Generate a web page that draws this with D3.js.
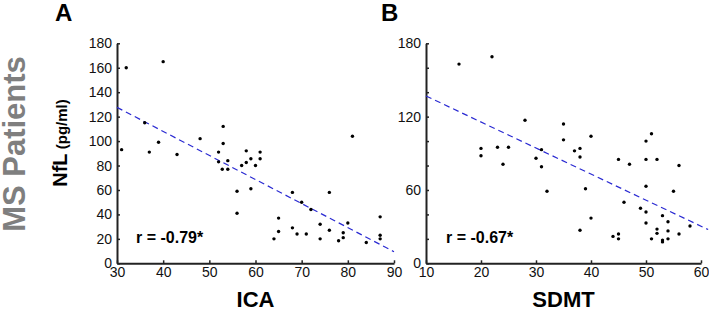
<!DOCTYPE html>
<html>
<head>
<meta charset="utf-8">
<script src="https://cdn.jsdelivr.net/npm/d3@7"></script>
<style>
  body { margin: 0; background: #fff; }
  text { font-family: "Liberation Sans", Arial, sans-serif; }
</style>
</head>
<body>
<div id="chart"></div>
<script>
// Panel A: ICA vs NfL
const icaValues = [32, 40, 31, 36, 37, 39, 43, 48, 53, 53, 52, 58, 61, 81,
    52, 52.8, 54, 54, 57, 58, 59, 60, 61,
    56, 56, 59, 65, 65, 64, 68, 68, 69, 70, 71, 72, 74, 74, 76, 76, 78, 79, 79, 80, 84, 87, 87, 87];
const icaNfl = [160, 165, 93, 115, 91, 99, 89, 102, 112, 98, 91, 92, 91, 104,
    83, 77, 84, 77, 80, 82.5, 85.5, 80, 85.5,
    59, 41, 61, 37, 26, 20, 58, 29, 24, 50, 24, 44, 32, 20, 58, 27, 18.5, 25, 21, 33, 17, 38, 23, 20];

// Panel B: SDMT vs NfL
const sdmtValues = [16, 22, 28, 35, 35, 40, 20, 20, 23, 25, 31, 30, 37, 38, 38, 45, 50, 51, 50, 52,
    24, 31, 32, 39, 40, 38, 44, 45, 45, 47, 46, 49, 50, 50, 50, 51, 52, 52, 53, 53, 53, 54, 54, 54, 55, 56, 56, 58];
const sdmtNfl = [163, 169, 117, 114, 101, 104, 94, 88, 95, 95, 93, 86, 92, 94, 87, 85, 100, 106, 85, 85,
    81, 79, 59, 61, 37, 27, 22, 24, 20, 81, 50, 45, 42, 33, 63, 20, 28, 24.5, 39, 19, 17.5, 34, 26.5, 20, 59, 80, 24, 30.5];

// Regression lines (end points)
const icaFitX = [30, 90];
const icaFitY = [127.6, 9.5];
const sdmtFitX = [10, 61.3];
const sdmtFitY = [136.9, 27.6];

// Tick values
const yTicks = [0, 20, 40, 60, 80, 100, 120, 140, 160, 180];
const icaTicks = [30, 40, 50, 60, 70, 80, 90];
const sdmtTicks = [10, 20, 30, 40, 50, 60];

const svg = d3.select("#chart")
    .append("svg")
    .attr("width", 709)
    .attr("height", 311);

const plotTop = 43.3, plotBottom = 263.3;

function drawPanel(cfg) {
    const xScale = d3.scaleLinear().domain(cfg.xDomain).range(cfg.xRange);
    const yScale = d3.scaleLinear().domain([0, 180]).range([plotBottom, plotTop]);

    const g = svg.append("g");

    // y axis (ticks pointing inward)
    const yAxis = g.append("g")
        .attr("transform", `translate(${cfg.xRange[0]},0)`)
        .call(d3.axisLeft(yScale)
            .tickValues(yTicks)
            .tickSizeInner(-3)
            .tickSizeOuter(0)
            .tickPadding(5)
            .tickFormat(cfg.yFormat));

    // x axis
    const xAxis = g.append("g")
        .attr("transform", `translate(0,${plotBottom})`)
        .call(d3.axisBottom(xScale)
            .tickValues(cfg.xTicks)
            .tickSizeInner(-3)
            .tickSizeOuter(0)
            .tickPadding(4));

    [yAxis, xAxis].forEach(ax => {
        ax.select(".domain").attr("stroke", "#222").attr("stroke-width", 2);
        ax.selectAll(".tick line").attr("stroke", "#222").attr("stroke-width", 1.5);
        ax.selectAll(".tick text")
            .attr("fill", "#111")
            .style("font-size", "14px")
            .style("font-family", "Liberation Sans, Arial, sans-serif");
    });

    // regression line
    g.append("line")
        .attr("x1", xScale(cfg.fitX[0]))
        .attr("y1", yScale(cfg.fitY[0]))
        .attr("x2", xScale(cfg.fitX[1]))
        .attr("y2", yScale(cfg.fitY[1]))
        .attr("stroke", "#2a2ad2")
        .attr("stroke-width", 1.2)
        .attr("stroke-dasharray", "6,4");

    // points
    g.selectAll("circle")
        .data(cfg.xs.map((x, i) => [x, cfg.ys[i]]))
        .enter()
        .append("circle")
        .attr("cx", d => xScale(d[0]))
        .attr("cy", d => yScale(d[1]))
        .attr("r", 1.7)
        .attr("fill", "#000");

    // correlation text
    g.append("text")
        .attr("x", cfg.rX)
        .attr("y", 243)
        .style("font-size", "16px")
        .style("font-weight", "bold")
        .text(cfg.rText);

    // x label
    g.append("text")
        .attr("x", (cfg.xRange[0] + cfg.xRange[1]) / 2)
        .attr("y", 307)
        .attr("text-anchor", "middle")
        .style("font-size", "22px")
        .style("font-weight", "bold")
        .text(cfg.xLabel);

    // panel letter
    g.append("text")
        .attr("x", cfg.letterX)
        .attr("y", 21)
        .style("font-size", "24px")
        .style("font-weight", "bold")
        .text(cfg.letter);
}

drawPanel({
    xDomain: [30, 90], xRange: [117, 394], xTicks: icaTicks,
    yFormat: d3.format("d"),
    xs: icaValues, ys: icaNfl, fitX: icaFitX, fitY: icaFitY,
    rText: "r = -0.79*", rX: 136, xLabel: "ICA", letter: "A", letterX: 55
});

drawPanel({
    xDomain: [10, 60], xRange: [426, 701], xTicks: sdmtTicks,
    yFormat: d => (d % 60 === 0 ? d : ""),
    xs: sdmtValues, ys: sdmtNfl, fitX: sdmtFitX, fitY: sdmtFitY,
    rText: "r = -0.67*", rX: 446, xLabel: "SDMT", letter: "B", letterX: 381
});

// y axis label
const yLab = svg.append("text")
    .attr("transform", "translate(67,143) rotate(-90)")
    .attr("text-anchor", "middle")
    .style("font-weight", "bold");
yLab.append("tspan").style("font-size", "20px").text("NfL");
yLab.append("tspan").style("font-size", "15px").text(" (pg/ml)");

// group label
svg.append("text")
    .attr("transform", "translate(25,144) rotate(-90)")
    .attr("text-anchor", "middle")
    .attr("fill", "#7f7f7f")
    .style("font-size", "31px")
    .style("font-weight", "bold")
    .text("MS Patients");
</script>
</body>
</html>
